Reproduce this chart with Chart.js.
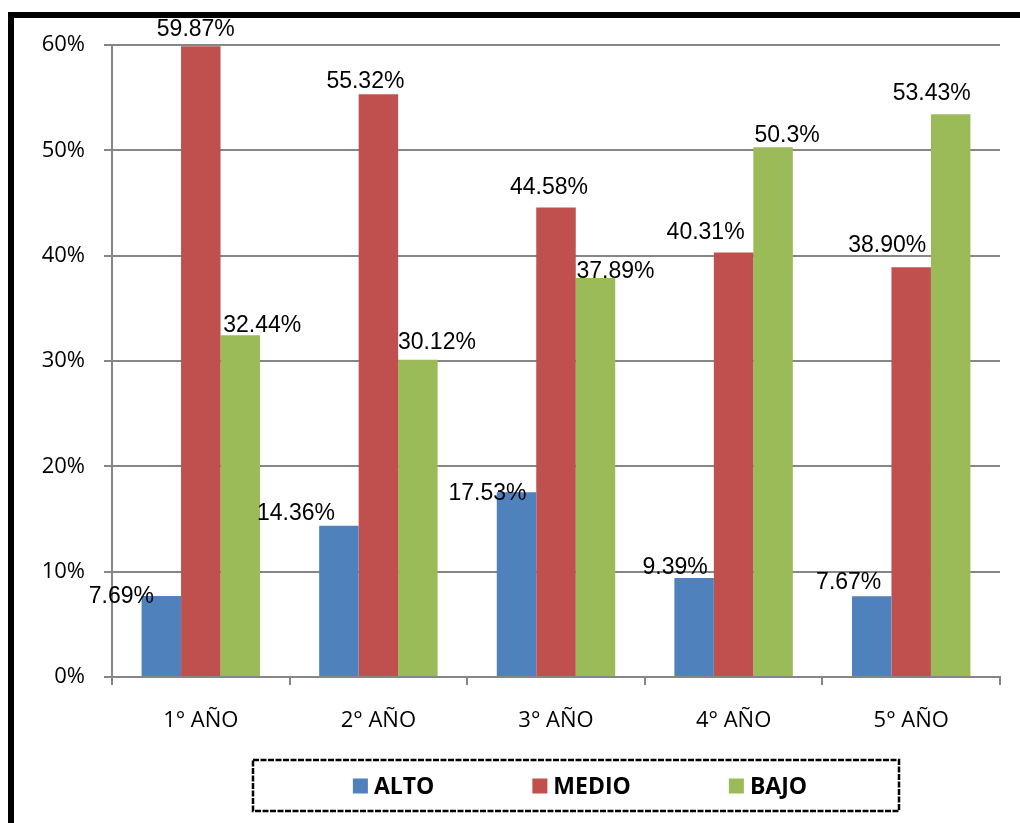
<!DOCTYPE html>
<html>
<head>
<meta charset="utf-8">
<script src="https://cdn.jsdelivr.net/npm/chart.js@4.4.1/dist/chart.umd.min.js"></script>
<style>
  html, body { margin: 0; padding: 0; background: #fff; overflow: hidden; }
  #wrap { position: relative; width: 1020px; height: 823px; }
  #frame { position: absolute; left: 8px; top: 12px; width: 1100px; height: 900px;
           border-top: 6px solid #000; border-left: 6px solid #000; box-sizing: border-box; }
  canvas { position: absolute; left: 0; top: 0; }
</style>
</head>
<body>
<div id="wrap">
  <div id="frame"></div>
  <canvas id="chart" width="1020" height="823"></canvas>
</div>
<script>
// percentages per school year, kept as written so the label text stays the same
let years = ['1° AÑO', '2° AÑO', '3° AÑO', '4° AÑO', '5° AÑO'];
let alto = ['7.69', '14.36', '17.53', '9.39', '7.67'];
let medio = ['59.87', '55.32', '44.58', '40.31', '38.90'];
let bajo = ['32.44', '30.12', '37.89', '50.3', '53.43'];

// where each value label sits relative to the top centre of its bar (dx, dy)
let altoShift = [[-40, 1], [-43, -12], [-29, 1], [-19, -10], [-23, -14]];
let medioShift = [[-5, -17], [-13, -13], [-7, -20], [-28, -20], [-24, -22]];
let bajoShift = [[22, -10], [19, -17], [20, -6], [14, -12], [-19, -21]];

let color = ['#4F81BD', '#C0504D', '#9BBB59'];
let axisGrey = '#868686';

let valueLabels = {
    id: 'valueLabels',
    afterDatasetsDraw(chart) {
        let ctx = chart.ctx;
        ctx.save();
        ctx.font = '23px "Liberation Sans", Arial, sans-serif';
        ctx.fillStyle = '#000';
        ctx.textAlign = 'center';
        ctx.textBaseline = 'middle';
        chart.data.datasets.forEach((ds, d) => {
            chart.getDatasetMeta(d).data.forEach((bar, i) => {
                let s = ds.shift[i];
                ctx.fillText(ds.text[i] + '%', bar.x + s[0], bar.y + s[1]);
            });
        });
        ctx.restore();
    }
};

// boxed legend under the plot
let boxLegend = {
    id: 'boxLegend',
    afterDraw(chart) {
        let ctx = chart.ctx;
        ctx.save();
        ctx.strokeStyle = '#000';
        ctx.lineWidth = 2.5;
        ctx.setLineDash([6, 1.5]);
        ctx.strokeRect(253, 760, 646, 51);
        ctx.setLineDash([]);

        ctx.font = 'bold 23px "Open Sans", sans-serif';
        ctx.textBaseline = 'middle';
        let gap = 98, sq = 15, pad = 6;
        let items = chart.data.datasets.map(ds => ({
            label: ds.label, color: ds.backgroundColor,
            w: sq + pad + ctx.measureText(ds.label).width
        }));
        let total = items.reduce((a, it) => a + it.w, 0) + gap * (items.length - 1);
        let x = 580 - total / 2, cy = 786;
        items.forEach(it => {
            ctx.fillStyle = it.color;
            ctx.fillRect(x, cy - sq / 2, sq, sq);
            ctx.fillStyle = '#000';
            ctx.fillText(it.label, x + sq + pad, cy + 1);
            x += it.w + gap;
        });
        ctx.restore();
    }
};

let ctx = document.getElementById('chart').getContext('2d');
let chart = new Chart(ctx, {
    type: 'bar',
    data: {
        labels: years,
        datasets: [
            { label: 'ALTO', data: alto.map(Number), text: alto, shift: altoShift, backgroundColor: color[0] },
            { label: 'MEDIO', data: medio.map(Number), text: medio, shift: medioShift, backgroundColor: color[1] },
            { label: 'BAJO', data: bajo.map(Number), text: bajo, shift: bajoShift, backgroundColor: color[2] }
        ]
    },
    options: {
        responsive: false,
        animation: false,
        categoryPercentage: 0.667,
        barPercentage: 1,
        layout: { padding: { left: 20, right: 20, top: 45, bottom: 86 } },
        plugins: {
            legend: { display: false },
            tooltip: { enabled: false }
        },
        scales: {
            x: {
                grid: { drawOnChartArea: false, offset: true, tickLength: 8, color: axisGrey, lineWidth: 2 },
                border: { color: axisGrey, width: 2 },
                ticks: { color: '#000', font: { family: 'Open Sans', size: 22 }, padding: 23 },
                afterFit: s => { s.height = 60; }
            },
            y: {
                min: 0,
                max: 60,
                grid: { color: axisGrey, lineWidth: 2, tickLength: 8 },
                border: { color: axisGrey, width: 2 },
                ticks: {
                    stepSize: 10,
                    color: '#000',
                    font: { family: 'Open Sans', size: 22 },
                    padding: 19,
                    callback: v => v + '%'
                },
                afterFit: s => { s.width = 92; }
            }
        }
    },
    plugins: [valueLabels, boxLegend]
});
</script>
</body>
</html>
